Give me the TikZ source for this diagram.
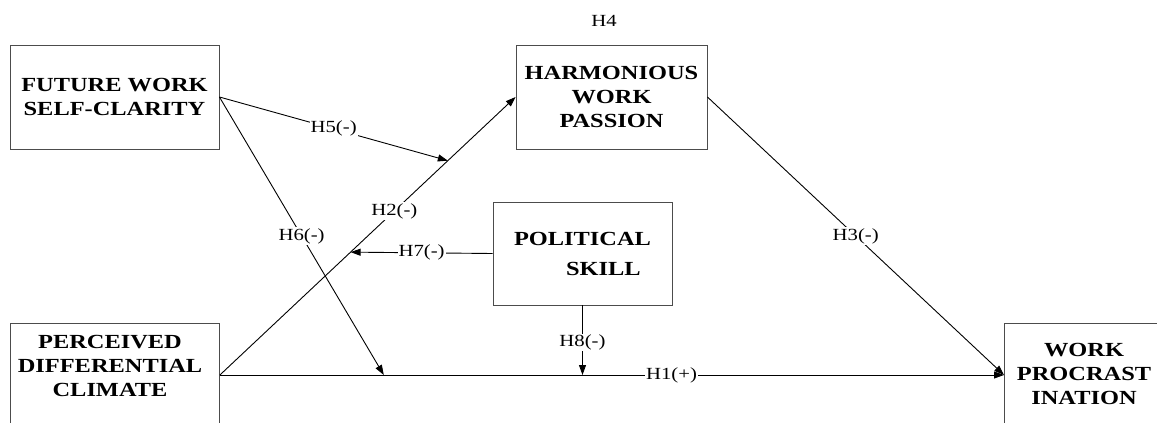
\documentclass[tikz,border=0pt]{standalone}
\usepackage{fontspec}
\setmainfont{Liberation Serif}[FakeStretch=1.22]
\usetikzlibrary{arrows.meta,calc}
\begin{document}
\begin{tikzpicture}[x=1pt,y=-1pt,
  construct/.style={draw=black!70,line width=0.9pt,rectangle,inner sep=0pt},
  boxtext/.style={align=center,font=\fontsize{20}{24}\selectfont\bfseries},
  link/.style={draw,line width=0.9pt,-{Triangle[length=10pt,width=7pt]}},
  hyp/.style={font=\fontsize{17}{20}\selectfont,fill=white,inner sep=1pt}
]
\clip (0,0) rectangle (1157,423);

% constructs
\node[construct,boxtext,minimum width=209pt,minimum height=104pt] (fwsc) at (114.5,97)
  {FUTURE WORK\\SELF-CLARITY};
\node[construct,boxtext,minimum width=191pt,minimum height=104pt] (hwp) at (611.5,97)
  {HARMONIOUS\\WORK\\PASSION};
\node[construct,boxtext,align=left,minimum width=179pt,minimum height=103pt] (ps) at (582.5,253.5)
  {POLITICAL\\[6pt]\hspace*{52pt}SKILL};
\node[construct,anchor=north west,minimum width=209pt,minimum height=130pt] (pdc) at (10,323) {};
\node[boxtext] (pdctext) at (110,366) {PERCEIVED\\DIFFERENTIAL\\CLIMATE};
\node[construct,anchor=north west,minimum width=200pt,minimum height=130pt] (wp) at (1004,323) {};
\node[boxtext] (wptext) at (1084,374) {WORK\\PROCRAST\\INATION};

\node[font=\fontsize{17}{20}\selectfont] (h4) at (604,21) {H4};

% attachment points
\coordinate (pdcout) at ([yshift=-52pt]pdc.north east);
\coordinate (wpin) at ([yshift=-52pt]wp.north west);
\coordinate (h5end) at ($(pdcout)!0.771!(hwp.west)$);
\coordinate (h6end) at ($(pdcout)!0.209!(wpin)$);
\coordinate (h7end) at ($(pdcout)!0.442!(hwp.west)$);
\coordinate (h8end) at (ps.south |- pdcout);

% hypothesised paths
\draw[link] (pdcout) -- node[hyp,pos=0.576]{H1(+)} (wpin);
\draw[link] (pdcout) -- node[hyp,pos=0.59]{H2(-)} (hwp.west);
\draw[link] (hwp.east) -- node[hyp,pos=0.5]{H3(-)} (wpin);
\draw[link] (fwsc.east) -- node[hyp]{H5(-)} (h5end);
\draw[link] (fwsc.east) -- node[hyp]{H6(-)} (h6end);
\draw[link] (ps.west) -- node[hyp]{H7(-)} (h7end);
\draw[link] (ps.south) -- node[hyp,pos=0.53]{H8(-)} (h8end);
\end{tikzpicture}
\end{document}
